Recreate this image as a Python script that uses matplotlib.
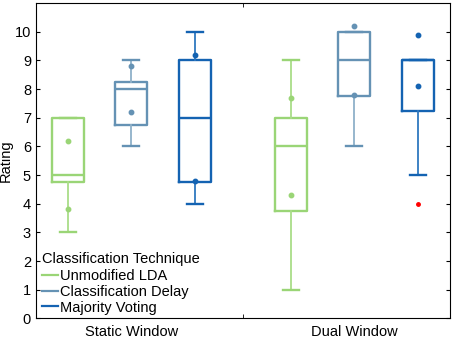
import numpy as np
import matplotlib.pyplot as plt
from matplotlib.lines import Line2D

plt.rcParams['font.family'] = ['Liberation Sans', 'DejaVu Sans']

groups = ['Static Window', 'Dual Window']
techniques = ['Unmodified LDA', 'Classification Delay', 'Majority Voting']
box_colors = ['#9ad576', '#6592b4', '#1463b2']
whisker_colors = ['#a9dd88', '#8fb1c9', '#2f78bf']

# order: static LDA, static delay, static majority, dual LDA, dual delay, dual majority
positions = [1, 2, 3, 4.5, 5.5, 6.5]
med = [5, 8, 7, 6, 9, 9]
q1 = [4.75, 6.75, 4.75, 3.75, 7.75, 7.25]
q3 = [7, 8.25, 9, 7, 10, 9]
whislo = [3, 6, 4, 1, 6, 5]
whishi = [7, 9, 10, 9, 10, 9]
dot_hi = [6.2, 8.8, 9.2, 7.7, 10.2, 9.9]
dot_lo = [3.8, 7.2, 4.8, 4.3, 7.8, 8.1]
outliers = [[], [], [], [], [], [4]]

fig = plt.figure(figsize=(4.54, 3.42), dpi=100)
ax = fig.add_axes([0.079, 0.069, 0.912, 0.922])

for i in range(6):
    c = i % 3
    stats = [dict(med=med[i], q1=q1[i], q3=q3[i], whislo=whislo[i], whishi=whishi[i], fliers=outliers[i])]
    ax.bxp(stats, positions=[positions[i]], widths=0.5, showfliers=True,
           boxprops=dict(color=box_colors[c], linewidth=1.7),
           medianprops=dict(color=box_colors[c], linewidth=1.7),
           whiskerprops=dict(color=whisker_colors[c], linewidth=1.3),
           capprops=dict(color=box_colors[c], linewidth=1.7),
           flierprops=dict(marker='o', markersize=2.5, markerfacecolor='red', markeredgecolor='red'),
           capwidths=0.25)
    ax.plot([positions[i], positions[i]], [dot_hi[i], dot_lo[i]], 'o', color=box_colors[c],
            markersize=3.2, linestyle='none')

ax.set_xlim(0.5, 7.0)
ax.set_ylim(0, 11)
ax.set_yticks(range(0, 11))
ax.tick_params(axis='y', direction='in', right=True, labelsize=10.5, length=3)
ax.set_xticks([2, 5.5])
ax.set_xticklabels(groups, fontsize=10.5)
ax.tick_params(axis='x', length=0, pad=5)
ax.set_xticks([3.75], minor=True)
ax.tick_params(axis='x', which='minor', direction='in', top=True, length=3)
ax.set_ylabel('Rating', fontsize=10.5, labelpad=1)

handles = [Line2D([0], [0], color=box_colors[k], linewidth=1.6) for k in range(3)]
leg = ax.legend(handles, techniques, title='Classification Technique', loc='lower left',
                bbox_to_anchor=(-0.01, -0.02), frameon=False, fontsize=10.5, title_fontsize=10.5,
                handlelength=1.1, handletextpad=0.15, labelspacing=0.12, borderpad=0.2)
leg._legend_box.align = 'left'
leg._legend_box.sep = 2

fig.savefig('out.png', dpi=100)
